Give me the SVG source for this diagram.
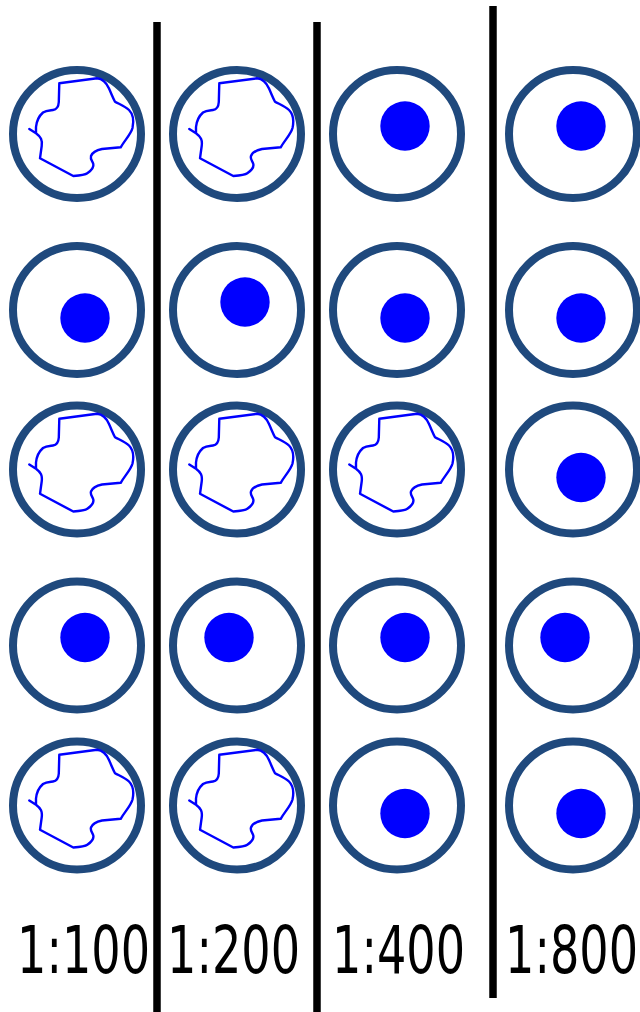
<svg xmlns="http://www.w3.org/2000/svg" xmlns:xlink="http://www.w3.org/1999/xlink" width="640" height="1012" viewBox="0 0 640 1012">
<style>
.ring{fill:#fff;stroke:#1f497d;stroke-width:8}
.dot{fill:#0000ff}
.blob{fill:none;stroke:#0000ff;stroke-width:2.4;stroke-linejoin:round;stroke-linecap:round}
.sep{stroke:#000;stroke-width:7.5}
.lbl{font-family:"DejaVu Sans","Verdana",sans-serif;font-size:66px;fill:#000}
</style>
<defs>
<path id="shape" class="blob" d="M-47.7,-5 L-41,-0.7 C-36,3 -34.5,6 -35.3,12 L-37,24.3 L-3.7,42 C3,41.5 8,41 10.3,39.3 C15,36 17,33 16.3,30 C15.5,27 13,25.5 14,22 C15.5,18 20,16 25,15 L43.7,13.3 C48,6 54,0 55.5,-6 C57,-13 57,-19 52,-24 C48,-28 42,-30 38,-32.3 C36,-36 34.5,-40 32,-45.5 C30,-50 27,-55 20,-55.7 L-17.7,-50.7 L-18.2,-32 C-18.5,-27 -20,-24.5 -24,-24 C-28,-23.5 -31,-23.5 -34,-21.5 C-38,-18 -40.5,-12 -41,-7 L-41,-0.7"/>
</defs>
<g id="connectors">
<line class="sep" x1="157" y1="22" x2="157" y2="1012"/>
<line class="sep" x1="317" y1="22" x2="317" y2="1012"/>
<line class="sep" x1="493" y1="6" x2="493" y2="998"/>
</g>
<g id="r1c1"><circle class="ring" cx="77" cy="134" r="64"/><use xlink:href="#shape" transform="translate(77,134)"/></g>
<g id="r1c2"><circle class="ring" cx="237" cy="134" r="64"/><use xlink:href="#shape" transform="translate(237,134)"/></g>
<g id="r1c3"><circle class="ring" cx="397" cy="134" r="64"/><circle class="dot" cx="405" cy="126" r="24.7"/></g>
<g id="r1c4"><circle class="ring" cx="573" cy="134" r="64"/><circle class="dot" cx="581" cy="126" r="24.7"/></g>

<g id="r2c1"><circle class="ring" cx="77" cy="310" r="64"/><circle class="dot" cx="85" cy="318" r="24.7"/></g>
<g id="r2c2"><circle class="ring" cx="237" cy="310" r="64"/><circle class="dot" cx="245" cy="302" r="24.7"/></g>
<g id="r2c3"><circle class="ring" cx="397" cy="310" r="64"/><circle class="dot" cx="405" cy="318" r="24.7"/></g>
<g id="r2c4"><circle class="ring" cx="573" cy="310" r="64"/><circle class="dot" cx="581" cy="318" r="24.7"/></g>

<g id="r3c1"><circle class="ring" cx="77" cy="469.5" r="64"/><use xlink:href="#shape" transform="translate(77,469.5)"/></g>
<g id="r3c2"><circle class="ring" cx="237" cy="469.5" r="64"/><use xlink:href="#shape" transform="translate(237,469.5)"/></g>
<g id="r3c3"><circle class="ring" cx="397" cy="469.5" r="64"/><use xlink:href="#shape" transform="translate(397,469.5)"/></g>
<g id="r3c4"><circle class="ring" cx="573" cy="469.5" r="64"/><circle class="dot" cx="581" cy="477.5" r="24.7"/></g>

<g id="r4c1"><circle class="ring" cx="77" cy="645.5" r="64"/><circle class="dot" cx="85" cy="637.5" r="24.7"/></g>
<g id="r4c2"><circle class="ring" cx="237" cy="645.5" r="64"/><circle class="dot" cx="229" cy="637.5" r="24.7"/></g>
<g id="r4c3"><circle class="ring" cx="397" cy="645.5" r="64"/><circle class="dot" cx="405" cy="637.5" r="24.7"/></g>
<g id="r4c4"><circle class="ring" cx="573" cy="645.5" r="64"/><circle class="dot" cx="565" cy="637.5" r="24.7"/></g>

<g id="r5c1"><circle class="ring" cx="77" cy="805.5" r="64"/><use xlink:href="#shape" transform="translate(77,805.5)"/></g>
<g id="r5c2"><circle class="ring" cx="237" cy="805.5" r="64"/><use xlink:href="#shape" transform="translate(237,805.5)"/></g>
<g id="r5c3"><circle class="ring" cx="397" cy="805.5" r="64"/><circle class="dot" cx="405" cy="813.5" r="24.7"/></g>
<g id="r5c4"><circle class="ring" cx="573" cy="805.5" r="64"/><circle class="dot" cx="581" cy="813.5" r="24.7"/></g>

<g id="labels">
<text class="lbl" transform="translate(17,973) scale(0.7,1)">1:100</text>
<text class="lbl" transform="translate(167,973) scale(0.7,1)">1:200</text>
<text class="lbl" transform="translate(332,973) scale(0.7,1)">1:400</text>
<text class="lbl" transform="translate(505,973) scale(0.7,1)">1:800</text>
</g>
</svg>
